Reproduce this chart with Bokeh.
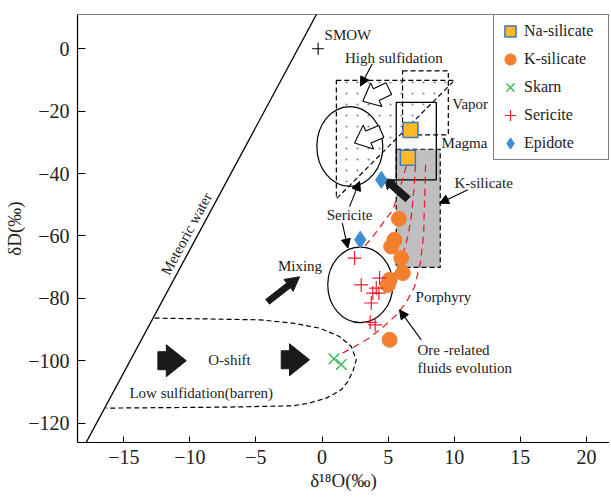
import math
from bokeh.plotting import figure
from bokeh.models import Arrow, NormalHead, Span, Legend, LegendItem, ImageURLTexture
from bokeh.core.properties import value
from bokeh.embed import file_html
from bokeh.resources import INLINE

FONT = "Liberation Serif"

# ---------------- data ----------------
na_x = [6.69, 6.49]
na_y = [-26.0, -34.9]

k_x = [5.81, 5.48, 5.23, 5.99, 6.11, 5.11, 4.98, 5.11]
k_y = [-54.5, -61.2, -63.4, -67.1, -71.9, -74.1, -75.7, -93.3]

skarn_x = [0.9, 1.45]
skarn_y = [-99.4, -101.2]

ser_x = [2.46, 2.96, 4.35, 4.10, 3.84, 4.30, 3.72, 3.64, 4.02]
ser_y = [-67.1, -75.7, -73.5, -76.7, -78.3, -78.3, -81.5, -87.7, -88.5]

epi_x = [4.48, 2.89]
epi_y = [-42.0, -61.2]

smow_x = [-0.3]
smow_y = [0.0]

x_ticks = [-15, -10, -5, 0, 5, 10, 15, 20]
y_ticks = [0, -20, -40, -60, -80, -100, -120]

# reference lines / fields (data units)
mwl_x = [-18.3, -0.2]
mwl_y = [-129.8, 12.8]

ksil_box = dict(left=5.61, right=8.94, top=-32.2, bottom=-70.1)
magma_box = dict(left=5.61, right=8.64, top=-17.2, bottom=-42.0)
vapor_box = dict(left=6.09, right=9.55, top=-7.05, bottom=-27.6)
hs_tri_x = [1.08, 10.02, 1.08]
hs_tri_y = [-10.1, -10.1, -48.1]

hs_ell = dict(x=2.10, y=-31.3, w=4.99, h=25.6)
por_ell = dict(x=2.89, y=-75.7, w=4.92, h=24.2)

low_x = [-12.67, -4.73, -2.21, -0.19, 1.32, 2.21, 2.59, 2.33, 1.95, 1.45, 0.32,
         -0.95, -2.21, -7.25, -16.32]
low_y = [-86.34, -86.89, -87.94, -89.55, -92.24, -95.45, -99.71, -103.46,
         -106.67, -109.33, -111.99, -113.59, -114.46, -114.88, -115.20]

ore_l_x = [6.37, 5.86, 5.36, 4.60, 3.84, 3.21]
ore_l_y = [-37.7, -45.2, -51.6, -55.9, -60.2, -63.4]
ore_m_x = [7.07, 6.95, 6.75, 6.49, 6.11, 5.56, 4.95]
ore_m_y = [-37.2, -45.0, -53.8, -60.2, -66.0, -71.5, -76.6]
ore_r_x = [7.83, 7.76, 7.68, 7.45, 7.00, 6.39, 5.63, 4.57, 3.58, 2.29, 1.15]
ore_r_y = [-37.2, -48.4, -59.6, -68.3, -76.3, -81.1, -85.3, -89.4, -92.7, -95.9, -98.5]

# ---------------- figure ----------------
W, H = 609, 495
BL, BR, BT, BB = 77, 0, 14, 53
FW, FH = W - BL - BR, H - BT - BB
SX, SY = 13.22, 3.119          # px per data unit
X0, Y1 = -18.5, 11.0
X1 = X0 + FW / SX
Y0 = Y1 - FH / SY

p = figure(width=W, height=H, x_range=(X0, X1), y_range=(Y0, Y1),
           output_backend="svg", toolbar_location=None,
           min_border_left=BL, min_border_right=BR, min_border_top=BT,
           min_border_bottom=BB)
p.grid.visible = False
p.outline_line_color = None
p.background_fill_color = "white"
p.border_fill_color = "white"

for ax, ticks, tin in ((p.xaxis[0], x_ticks, 6), (p.yaxis[0], y_ticks, 8)):
    ax.ticker = ticks
    ax.major_tick_in = tin
    ax.major_tick_out = 0
    ax.minor_tick_line_color = None
    ax.axis_line_color = "black"
    ax.axis_line_width = 1.2
    ax.major_tick_line_color = "black"
    ax.major_label_text_font = FONT
    ax.major_label_text_font_size = "20px"
    ax.major_label_text_color = "#222222"
    ax.axis_label_text_font = FONT
    ax.axis_label_text_font_size = "19px"
    ax.axis_label_text_font_style = "normal"
    ax.axis_label_text_color = "#222222"
    ax.major_label_overrides = {t: (("\u2212" + str(-t)) if t < 0 else str(t)) for t in ticks}

p.xaxis.axis_label = "δ\u00b9\u2078O(‰)"
p.yaxis.axis_label = "δD(‰)"
p.xaxis.major_label_standoff = 7
p.xaxis.axis_label_standoff = 3
p.yaxis.major_label_standoff = 8
p.yaxis.axis_label_standoff = 0

p.add_layout(Span(location=Y1, dimension="width", line_color="black", line_width=1.2))


def block_arrow(x0, y0, x1, y1, shaft, head_w, head_len):
    ax0, ay0, ax1, ay1 = x0 * SX, y0 * SY, x1 * SX, y1 * SY
    dx, dy = ax1 - ax0, ay1 - ay0
    L = math.hypot(dx, dy)
    ux, uy = dx / L, dy / L
    nx, ny = -uy, ux
    base = L - head_len
    prof = [(0, shaft / 2), (base, shaft / 2), (base, head_w / 2), (L, 0),
            (base, -head_w / 2), (base, -shaft / 2), (0, -shaft / 2)]
    xs = [(ax0 + a * ux + b * nx) / SX for a, b in prof]
    ys = [(ay0 + a * uy + b * ny) / SY for a, b in prof]
    return xs, ys


dots_url = ("data:image/svg+xml;utf8,<svg xmlns='http://www.w3.org/2000/svg' "
            "width='11' height='11'><circle cx='5.5' cy='5.5' r='1.1' "
            "fill='%23888888'/></svg>")
dots = ImageURLTexture(url=dots_url, repetition="repeat")

# fields
p.quad(left=[ksil_box["left"]], right=[ksil_box["right"]], top=[ksil_box["top"]],
       bottom=[ksil_box["bottom"]], fill_color="#bfbfc1", line_color="black",
       line_dash="5 3", line_width=1.2)
p.patch(hs_tri_x, hs_tri_y, fill_color=None, line_color="black", line_dash="5 3",
        line_width=1.2, hatch_pattern="smalldots", hatch_extra={"smalldots": dots},
        hatch_scale=11)
p.quad(left=[vapor_box["left"]], right=[vapor_box["right"]], top=[vapor_box["top"]],
       bottom=[vapor_box["bottom"]], fill_color=None, line_color="black",
       line_dash="5 3", line_width=1.2)
p.quad(left=[magma_box["left"]], right=[magma_box["right"]], top=[magma_box["top"]],
       bottom=[magma_box["bottom"]], fill_color=None, line_color="black", line_width=1.3)
p.ellipse(x=[hs_ell["x"]], y=[hs_ell["y"]], width=[hs_ell["w"]], height=[hs_ell["h"]],
          fill_color=None, line_color="black", line_width=1.2)
p.ellipse(x=[por_ell["x"]], y=[por_ell["y"]], width=[por_ell["w"]], height=[por_ell["h"]],
          fill_color=None, line_color="black", line_width=1.2)
p.line(low_x, low_y, line_color="black", line_dash="5 3", line_width=1.2)
p.line(mwl_x, mwl_y, line_color="black", line_width=1.3)

for xs, ys in ((ore_l_x, ore_l_y), (ore_m_x, ore_m_y), (ore_r_x, ore_r_y)):
    p.line(xs, ys, line_color="#e8202a", line_dash="7 5", line_width=1.3)

# block arrows (black)
for (a, b, c, d, s, hw, hl) in [(-12.42, -100.0, -10.27, -100.0, 18, 32, 20),
                                 (-3.09, -99.7, -0.95, -99.7, 18, 32, 20),
                                 (-4.12, -81.1, -1.70, -73.1, 6, 15, 14),
                                 (6.49, -48.2, 4.75, -41.7, 7, 13, 9)]:
    xs, ys = block_arrow(a, b, c, d, s, hw, hl)
    p.patch(xs, ys, fill_color="#1a1a1a", line_color="#1a1a1a")

# block arrows (white)
for (a, b, c, d) in [(5.05, -12.8, 3.08, -16.8), (4.48, -26.5, 2.46, -30.2)]:
    xs, ys = block_arrow(a, b, c, d, 13, 26, 15)
    p.patch(xs, ys, fill_color="white", line_color="black", line_width=1.1)

# thin arrows
for (a, b, c, d) in [(3.80, -4.8, 2.91, -11.9), (2.08, -50.6, 2.84, -42.5),
                     (1.53, -55.9, 1.95, -63.9), (11.03, -45.2, 8.89, -49.5),
                     (7.50, -93.3, 5.86, -83.7)]:
    p.add_layout(Arrow(x_start=a, y_start=b, x_end=c, y_end=d, line_width=1.1,
                       end=NormalHead(size=9, fill_color="black", line_color="black")))

# points
r_na = p.scatter(na_x, na_y, marker="square", size=15, fill_color="#fbb82a",
                 line_color="#3f78c0", line_width=1.5)
r_k = p.scatter(k_x, k_y, marker="circle", size=15, fill_color="#f2802f",
                line_color="#f2802f")
r_sk = p.scatter(skarn_x, skarn_y, marker="x", size=15, line_color="#2db34a",
                 line_width=1.3)
r_se = p.scatter(ser_x, ser_y, marker="cross", size=14, line_color="#e8202a",
                 line_width=1.2)
r_ep = p.scatter(epi_x, epi_y, marker="diamond", size=17, fill_color="#3f8ed3",
                 line_color="#3f8ed3")
p.scatter(smow_x, smow_y, marker="cross", size=12, line_color="black", line_width=1.1)

# labels
lab_l_x = [0.19, 9.85, 9.04, 10.02, -3.34, 7.07, 7.22, 7.22]
lab_l_y = [4.5, -17.7, -30.2, -43.1, -69.6, -79.6, -96.5, -102.3]
lab_l_t = ["SMOW", "Vapor", "Magma", "K-silicate", "Mixing", "Porphyry",
           "Ore -related", "fluids evolution"]
p.text(lab_l_x, lab_l_y, text=lab_l_t, text_font=value(FONT), text_font_size="15px",
       text_align="left", text_baseline="middle", text_color="#222222")

lab_c_x = [5.43, 2.08, -7.0, -9.14]
lab_c_y = [-3.0, -53.2, -99.7, -110.2]
lab_c_t = ["High sulfidation", "Sericite", "O-shift", "Low sulfidation(barren)"]
p.text(lab_c_x, lab_c_y, text=lab_c_t, text_font=value(FONT), text_font_size="15px",
       text_align="center", text_baseline="middle", text_color="#222222")

p.text([-10.25], [-59.3], text=["Meteoric water"], angle=math.radians(61.7),
       text_font=value(FONT), text_font_size="15px", text_align="center",
       text_baseline="middle", text_color="#222222")

legend = Legend(items=[LegendItem(label="Na-silicate", renderers=[r_na]),
                       LegendItem(label="K-silicate", renderers=[r_k]),
                       LegendItem(label="Skarn", renderers=[r_sk]),
                       LegendItem(label="Sericite", renderers=[r_se]),
                       LegendItem(label="Epidote", renderers=[r_ep])],
                location="top_right")
legend.margin = 0
legend.padding = 2
legend.spacing = -1
legend.glyph_width = 28
legend.glyph_height = 28
legend.label_height = 20
legend.label_width = 82
legend.label_standoff = 0
legend.label_text_font = FONT
legend.label_text_font_size = "16px"
legend.label_text_color = "#222222"
legend.border_line_color = "black"
legend.border_line_width = 1.2
legend.background_fill_color = "white"
legend.background_fill_alpha = 1.0
p.add_layout(legend)

open("out.html", "w").write(file_html(p, INLINE))
